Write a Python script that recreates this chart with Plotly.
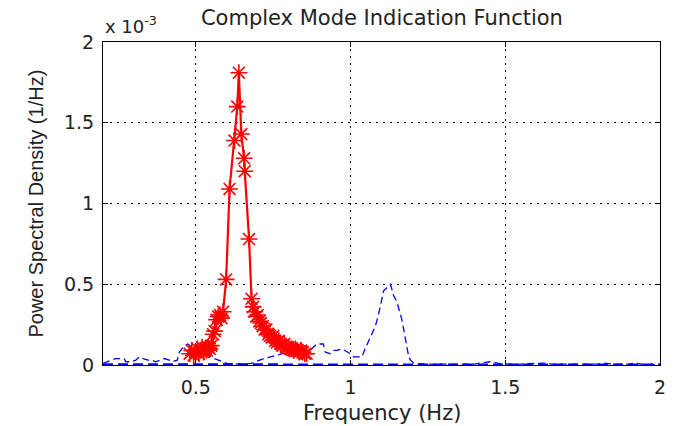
import plotly.graph_objects as go

# ---- data (PSD values in units of 1e-3 1/Hz) ----
red_freq = [0.480, 0.487, 0.493, 0.500, 0.505, 0.510, 0.515, 0.520, 0.525, 0.530,
            0.535, 0.540, 0.545, 0.550, 0.556, 0.561, 0.567, 0.572, 0.578, 0.583,
            0.588, 0.598, 0.609, 0.625, 0.634, 0.639, 0.647, 0.656, 0.658, 0.672,
            0.680, 0.685, 0.690, 0.695, 0.700, 0.705, 0.710, 0.716, 0.722, 0.728,
            0.734, 0.740, 0.745, 0.750, 0.756, 0.762, 0.768, 0.774, 0.780, 0.786,
            0.792, 0.798, 0.804, 0.810, 0.816, 0.822, 0.828, 0.834, 0.840, 0.846,
            0.852, 0.858]
red_psd = [0.07, 0.09, 0.06, 0.08, 0.10, 0.07, 0.09, 0.11, 0.08, 0.10,
           0.09, 0.11, 0.10, 0.12, 0.19, 0.21, 0.28, 0.30, 0.31, 0.29,
           0.33, 0.53, 1.09, 1.39, 1.60, 1.81, 1.43, 1.28, 1.20, 0.78,
           0.41, 0.36, 0.33, 0.30, 0.31, 0.27, 0.26, 0.24, 0.22, 0.22,
           0.19, 0.18, 0.17, 0.18, 0.15, 0.14, 0.15, 0.13, 0.12, 0.13,
           0.11, 0.11, 0.10, 0.10, 0.09, 0.10, 0.09, 0.08, 0.09, 0.08,
           0.07, 0.07]

blue1_freq = [0.200, 0.215, 0.225, 0.241, 0.255, 0.268, 0.274, 0.290, 0.306, 0.317,
              0.330, 0.345, 0.359, 0.370, 0.385, 0.398, 0.414, 0.425, 0.440, 0.447,
              0.463, 0.474, 0.500, 0.530, 0.560, 0.600, 0.640, 0.680, 0.720, 0.780,
              0.840, 0.874, 0.890, 0.912, 0.918, 0.934, 0.945, 0.955, 0.972, 0.988,
              0.999, 1.010, 1.026, 1.037, 1.047, 1.064, 1.080, 1.090, 1.100, 1.107,
              1.118, 1.129, 1.139, 1.150, 1.166, 1.177, 1.183, 1.188, 1.194, 1.205,
              1.250, 1.300, 1.350, 1.400, 1.430, 1.450, 1.480, 1.500, 1.550, 1.615,
              1.630, 1.650, 1.700, 1.750, 1.800, 1.816, 1.850, 1.900, 1.918, 1.950,
              2.000]
blue1_psd = [0.01, 0.02, 0.03, 0.04, 0.04, 0.04, 0.02, 0.02, 0.03, 0.05,
             0.04, 0.03, 0.03, 0.02, 0.03, 0.04, 0.03, 0.02, 0.03, 0.08,
             0.12, 0.13, 0.09, 0.07, 0.04, 0.01, 0.005, 0.01, 0.04, 0.07,
             0.08, 0.10, 0.13, 0.13, 0.08, 0.07, 0.09, 0.09, 0.10, 0.08,
             0.07, 0.05, 0.05, 0.05, 0.10, 0.17, 0.24, 0.31, 0.41, 0.46,
             0.48, 0.50, 0.43, 0.39, 0.28, 0.17, 0.11, 0.05, 0.03, 0.01,
             0.005, 0.004, 0.005, 0.006, 0.015, 0.02, 0.01, 0.005, 0.006, 0.014,
             0.012, 0.005, 0.004, 0.005, 0.006, 0.012, 0.005, 0.005, 0.011, 0.004,
             0.003]

blue2_freq = [0.20, 0.30, 0.40, 0.50, 0.60, 0.70, 0.80, 0.90, 1.00, 1.10,
              1.20, 1.30, 1.40, 1.50, 1.60, 1.70, 1.80, 1.90, 2.00]
blue2_psd = [0.004, 0.003, 0.004, 0.003, 0.004, 0.004, 0.003, 0.003, 0.004, 0.003,
             0.003, 0.003, 0.004, 0.003, 0.003, 0.003, 0.003, 0.003, 0.003]

x_ticks = [0.5, 1, 1.5, 2]
x_tick_text = ["0.5", "1", "1.5", "2"]
y_ticks = [0, 0.5, 1, 1.5, 2]
y_tick_text = ["0", "0.5", "1", "1.5", "2"]

title_text = "Complex Mode Indication Function"
x_label = "Frequency (Hz)"
y_label = "Power Spectral Density (1/Hz)"
exp_label = "x 10<sup>-3</sup>"

WIDE = "DejaVu Sans"
fig = go.Figure()

fig.add_trace(go.Scatter(x=blue2_freq, y=blue2_psd, mode="lines",
                         line=dict(color="#0000ff", width=2, dash="10px,5px"),
                         showlegend=False))
fig.add_trace(go.Scatter(x=blue1_freq, y=blue1_psd, mode="lines",
                         line=dict(color="#0000ff", width=1.3, dash="7px,4px"),
                         showlegend=False))
fig.add_trace(go.Scatter(x=red_freq, y=red_psd, mode="lines+markers",
                         line=dict(color="#ff0000", width=2.2),
                         marker=dict(symbol="asterisk-open", size=14,
                                     color="#ff0000", line=dict(color="#ff0000", width=1.6)),
                         showlegend=False))

axis_common = dict(showline=True, linecolor="black", linewidth=1, mirror="ticks",
                   ticks="inside", ticklen=5, tickcolor="black",
                   showgrid=True, gridcolor="black", gridwidth=1, griddash="2px,5px",
                   zeroline=False, tickfont=dict(family=WIDE, size=19, color="#222"))

fig.update_xaxes(range=[0.2, 2], tickvals=x_ticks, ticktext=x_tick_text,
                 ticklabelstandoff=5, **axis_common)
fig.update_yaxes(range=[0, 2], tickvals=y_ticks, ticktext=y_tick_text,
                 ticklabelstandoff=4, **axis_common)

fig.update_layout(
    width=679, height=426,
    margin=dict(l=103, r=19, t=42, b=61),
    plot_bgcolor="white", paper_bgcolor="white",
    title=dict(text=title_text, x=0.5625, xanchor="center", xref="container",
               y=1 - 18 / 426, yanchor="middle", yref="container",
               font=dict(family=WIDE, size=21, color="#222")),
    annotations=[
        dict(text=x_label, xref="paper", yref="paper", x=0.5, y=-0.148,
             xanchor="center", yanchor="middle", showarrow=False,
             font=dict(family=WIDE, size=21, color="#222")),
        dict(text=y_label, xref="paper", yref="paper", x=-0.122, y=0.5,
             xanchor="center", yanchor="middle", textangle=-90, showarrow=False,
             font=dict(family="Liberation Sans", size=20, color="#222")),
        dict(text=exp_label, xref="paper", yref="paper", x=0.0, y=1.0,
             xanchor="left", yanchor="bottom", yshift=3, showarrow=False,
             font=dict(family=WIDE, size=18, color="#222")),
    ],
)

fig.write_html("out.html")
